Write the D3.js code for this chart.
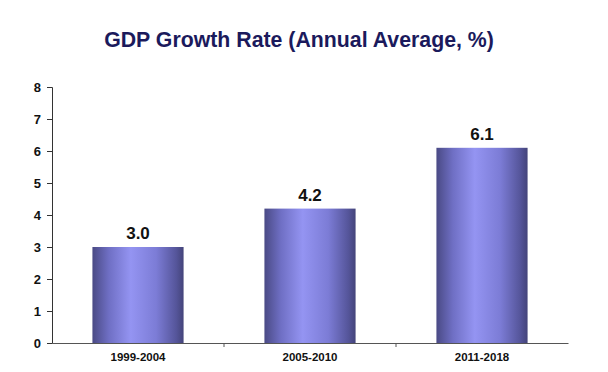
<!DOCTYPE html>
<html>
<head>
<meta charset="utf-8">
<script src="https://cdn.jsdelivr.net/npm/d3@7"></script>
<style>
  body { margin: 0; background: #fff; }
  text { font-family: Arial, "Liberation Sans", sans-serif; }
</style>
</head>
<body>
<div id="chart"></div>
<script>
// data
var periods = ["1999-2004", "2005-2010", "2011-2018"];
var growth = [3.0, 4.2, 6.1];
var yTicks = [0, 1, 2, 3, 4, 5, 6, 7, 8];

var margin = {top: 87, right: 40, bottom: 29, left: 52},
    width = 608 - margin.left - margin.right,
    height = 372 - margin.top - margin.bottom;

var svg = d3.select("#chart")
  .append("svg")
    .attr("width", 608)
    .attr("height", 372);

// title
svg.append("text")
  .attr("x", 299)
  .attr("y", 47)
  .attr("text-anchor", "middle")
  .style("font-size", "21.3px")
  .style("font-weight", "bold")
  .style("fill", "#1b1a5c")
  .text("GDP Growth Rate (Annual Average, %)");

// bar gradient, dark edges and a lighter band just left of centre
var defs = svg.append("defs");
var grad = defs.append("linearGradient")
  .attr("id", "barGrad")
  .attr("x1", "0%").attr("x2", "100%")
  .attr("y1", "0%").attr("y2", "0%");
grad.append("stop").attr("offset", "0%").attr("stop-color", "#4a4a85");
grad.append("stop").attr("offset", "18%").attr("stop-color", "#6f6fc4");
grad.append("stop").attr("offset", "42%").attr("stop-color", "#9494f2");
grad.append("stop").attr("offset", "70%").attr("stop-color", "#7c7cd6");
grad.append("stop").attr("offset", "92%").attr("stop-color", "#55559a");
grad.append("stop").attr("offset", "100%").attr("stop-color", "#44447a");

var g = svg.append("g")
  .attr("transform", "translate(" + margin.left + "," + margin.top + ")");

var x = d3.scaleBand()
  .domain(periods)
  .range([0, width])
  .paddingInner(0.47)
  .paddingOuter(0.235);

var y = d3.scaleLinear()
  .domain([0, 8])
  .range([height, 0]);

// bars
g.selectAll("rect.bar")
  .data(growth)
  .enter()
  .append("rect")
    .attr("class", "bar")
    .attr("x", function(d, i) { return x(periods[i]); })
    .attr("y", function(d) { return y(d); })
    .attr("width", x.bandwidth())
    .attr("height", function(d) { return height - y(d); })
    .style("fill", "url(#barGrad)");

// value labels
g.selectAll("text.val")
  .data(growth)
  .enter()
  .append("text")
    .attr("class", "val")
    .attr("x", function(d, i) { return x(periods[i]) + x.bandwidth() / 2; })
    .attr("y", function(d) { return y(d) - 8; })
    .attr("text-anchor", "middle")
    .style("font-size", "17px")
    .style("font-weight", "bold")
    .style("fill", "#111")
    .text(function(d) { return d.toFixed(1); });

// y axis
var yAxis = g.append("g")
  .call(d3.axisLeft(y).tickValues(yTicks).tickSize(5).tickPadding(6).tickFormat(d3.format("d")));
yAxis.select(".domain").attr("stroke", "#333");
yAxis.selectAll(".tick line").attr("stroke", "#333");
yAxis.selectAll("text")
  .style("font-size", "13px")
  .style("font-weight", "bold")
  .style("fill", "#111");

// x axis, ticks sit between the categories
var xAxis = g.append("g")
  .attr("transform", "translate(0," + height + ")")
  .call(d3.axisBottom(x).tickSize(0).tickPadding(10));
xAxis.select(".domain").attr("stroke", "#555");
xAxis.selectAll("text")
  .style("font-size", "11.5px")
  .style("font-weight", "bold")
  .style("fill", "#111");

xAxis.selectAll("line.sep")
  .data(periods.slice(1))
  .enter()
  .append("line")
    .attr("class", "sep")
    .attr("x1", function(d) { return x(d) - x.step() * x.paddingInner() / 2; })
    .attr("x2", function(d) { return x(d) - x.step() * x.paddingInner() / 2; })
    .attr("y1", 0)
    .attr("y2", 4)
    .attr("stroke", "#555");
</script>
</body>
</html>
